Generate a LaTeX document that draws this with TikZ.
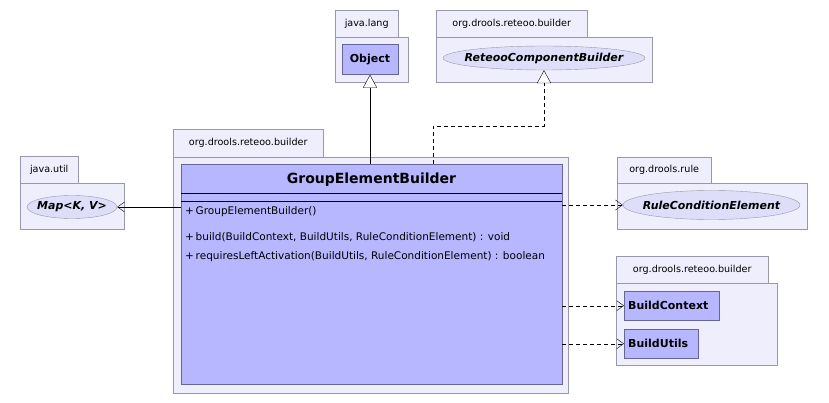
\documentclass[tikz,border=0pt]{standalone}
\usepackage{fontspec}
\setmainfont{DejaVu Sans}
\usetikzlibrary{arrows.meta,shapes.geometric}
\definecolor{pkgfill}{RGB}{238,238,252}
\definecolor{pkgline}{RGB}{152,152,172}
\definecolor{clsfill}{RGB}{183,183,255}
\definecolor{clsline}{RGB}{102,102,150}
\definecolor{ifcfill}{RGB}{222,222,248}

\begin{document}
\begin{tikzpicture}[x=1pt,y=-1pt,
  pkgtab/.style={draw=pkgline,fill=pkgfill,anchor=north west,inner sep=0pt,
    font=\fontsize{9.6}{11}\selectfont},
  pkgbody/.style={draw=pkgline,fill=pkgfill,anchor=north west,inner sep=0pt},
  cls/.style={draw=clsline,fill=clsfill,inner sep=0pt,
    font=\bfseries\fontsize{11}{13}\selectfont},
  clsname/.style={inner sep=4pt,font=\bfseries\fontsize{11}{13}\selectfont},
  ifc/.style={ellipse,draw=pkgline,fill=ifcfill,inner sep=0pt},
  ifcname/.style={inner sep=0pt,font=\bfseries\itshape\fontsize{11}{13}\selectfont},
  member/.style={anchor=west,inner sep=0pt,font=\fontsize{10.5}{12}\selectfont},
  inherit/.style={-{Triangle[length=13pt,width=14pt,fill=white]}},
  depend/.style={-{Straight Barb[length=7pt,width=10pt]},dash pattern=on 4pt off 3pt},
  assoc/.style={-{Straight Barb[length=7pt,width=10pt]}}]
\useasboundingbox (0,0) rectangle (829,403);

\node[pkgbody,minimum width=73,minimum height=45] (langbody) at (335,37) {};
\node[pkgtab,minimum width=63,minimum height=27] (langtab) at (335,10) {java.lang};
\node[cls,minimum width=56,minimum height=30] (obj) at (370,59.5) {Object};

\node[pkgbody,minimum width=216,minimum height=45] (rtbody) at (436,37) {};
\node[pkgtab,minimum width=151,minimum height=27] (rttab) at (436,10) {org.drools.reteoo.builder};
\node[ifc,minimum width=202,minimum height=24] (rcb) at (544,58) {};
\node[ifcname] (rcbname) at (rcb) {ReteooComponentBuilder};

\node[pkgbody,minimum width=395,minimum height=236] (mainbody) at (173,157) {};
\node[pkgtab,minimum width=150,minimum height=28] (maintab) at (173,129) {org.drools.reteoo.builder};
\node[cls,anchor=north west,minimum width=381,minimum height=220] (grp) at (181,164) {};
\node[font=\bfseries\fontsize{14}{16}\selectfont] (grpname) at (371.5,180) {GroupElementBuilder};
\draw ([yshift=-29pt]grp.north west) -- ([yshift=-29pt]grp.north east);
\draw ([yshift=-37pt]grp.north west) -- ([yshift=-37pt]grp.north east);
\node[member] (ctor) at (185,212) {+\,GroupElementBuilder()};
\node[member] (build) at (185,237) {+\,build(BuildContext, BuildUtils, RuleConditionElement) : void};
\node[member] (reqleft) at (185,257) {+\,requiresLeftActivation(BuildUtils, RuleConditionElement) : boolean};

\node[pkgbody,minimum width=104,minimum height=46] (utilbody) at (20,183) {};
\node[pkgtab,minimum width=58,minimum height=27] (utiltab) at (20,156) {java.util};
\node[ifc,minimum width=90,minimum height=23] (map) at (72,207) {};
\node[ifcname] (mapname) at (map) {Map<K, V>};

\node[pkgbody,minimum width=190,minimum height=46] (rulebody) at (617,183) {};
\node[pkgtab,minimum width=94,minimum height=26] (ruletab) at (617,157) {org.drools.rule};
\node[ifc,minimum width=177,minimum height=29] (rce) at (711.5,205) {};
\node[ifcname] (rcename) at (rce) {RuleConditionElement};

\node[pkgbody,minimum width=161,minimum height=82] (bldbody) at (616,283) {};
\node[pkgtab,minimum width=152,minimum height=27] (bldtab) at (616,256) {org.drools.reteoo.builder};
\node[cls,anchor=north west,minimum width=95,minimum height=29] (bctx) at (624,291) {};
\node[clsname,anchor=west] (bctxname) at (bctx.west) {BuildContext};
\node[cls,anchor=north west,minimum width=74,minimum height=29] (butil) at (624,329) {};
\node[clsname,anchor=west] (butilname) at (butil.west) {BuildUtils};

\draw[inherit] (obj |- grp.north) -- (obj.south);
\draw[inherit,dash pattern=on 4pt off 3pt] ([xshift=61pt]grp.north) -- ++(0,-38) -| (rcb.south);
\draw[assoc] (grp.west |- map) -- (map.east);
\draw[depend] (grp.east |- rce) -- (rce.west);
\draw[depend] (grp.east |- bctx) -- (bctx.west);
\draw[depend] (grp.east |- butil) -- (butil.west);
\end{tikzpicture}
\end{document}
